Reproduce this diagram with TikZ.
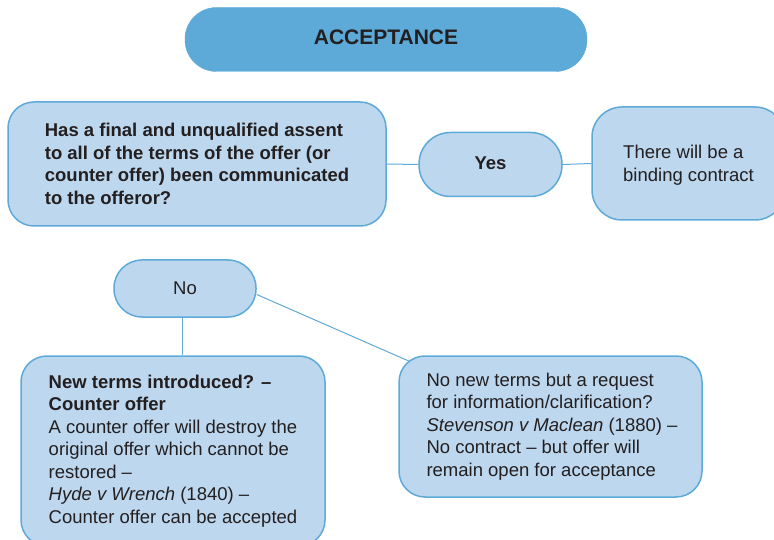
\documentclass[tikz,border=0pt]{standalone}
\usepackage{fontspec}
\setmainfont{Liberation Sans}
\usetikzlibrary{backgrounds}
\definecolor{edgeblue}{HTML}{5DA9D7}
\definecolor{boxfill}{HTML}{BDD7EE}
\definecolor{titlefill}{HTML}{5DAAD8}
\definecolor{ink}{HTML}{231F20}
\begin{document}
\begin{tikzpicture}[x=1pt,y=-1pt,
  box/.style={draw=edgeblue, fill=boxfill, line width=1.5pt, rounded corners=26pt,
    align=left, text=ink, inner sep=0pt, font=\fontsize{18.5}{22.5}\selectfont},
  pill/.style={box, align=center},
  titlebox/.style={fill=titlefill, draw=titlefill, text=ink, inner sep=0pt,
    rounded corners=31.5pt, minimum width=402pt, minimum height=64pt,
    font=\fontsize{21}{25}\selectfont\bfseries},
  link/.style={draw=edgeblue, line width=1pt}]
\useasboundingbox (0,0) rectangle (774,540);

% heading
\node[titlebox] (acc) at (386,39.5) {\raisebox{5pt}{ACCEPTANCE}};

% question and the "yes" branch
\node[box, minimum width=378pt, minimum height=124pt,
  font=\fontsize{18.5}{22.5}\selectfont\bfseries] (q) at (197,164)
  {Has a final and unqualified assent\\
   to all of the terms of the offer (or\\
   counter offer) been communicated\\
   to the offeror?};
\node[pill, rounded corners=31.5pt, minimum width=143pt, minimum height=64pt,
  font=\fontsize{18.5}{22.5}\selectfont\bfseries] (yes) at (490.5,164.5)
  {\raisebox{3pt}{Yes}};
\node[box, rounded corners=30pt, minimum width=193pt, minimum height=113pt]
  (bind) at (688.5,163.5) {\rule{0pt}{17pt}There will be a\\binding contract};

% the "no" branch
\node[pill, rounded corners=28pt, minimum width=142pt, minimum height=57pt]
  (no) at (185,288.5) {No};
\node[box, minimum width=304pt, minimum height=190pt] (nt) at (173,451)
  {\textbf{New terms introduced? –}\\
   \textbf{Counter offer}\\
   A counter offer will destroy the\\
   original offer which cannot be\\
   restored –\\
   \textit{Hyde v Wrench} (1840) –\\
   Counter offer can be accepted};
\node[box, minimum width=303pt, minimum height=141pt] (clar) at (550.5,426.5)
  {\hspace*{3pt}No new terms but a request\\
   \hspace*{3pt}for information/clarification?\\
   \hspace*{3pt}\textit{Stevenson v Maclean} (1880) –\\
   \hspace*{3pt}No contract – but offer will\\
   \hspace*{3pt}remain open for acceptance};

% connectors
\begin{scope}[on background layer]
\draw[link] (q.east) -- (yes.west);
\draw[link] (yes.east) -- (bind.west);
\draw[link] ([xshift=-3pt]no.south) -- ([xshift=-3pt]no.south |- nt.north);
\draw[link] ([yshift=-6pt]no.east) -- ([xshift=11pt,yshift=-6pt]clar.north west);
\end{scope}
\end{tikzpicture}
\end{document}
